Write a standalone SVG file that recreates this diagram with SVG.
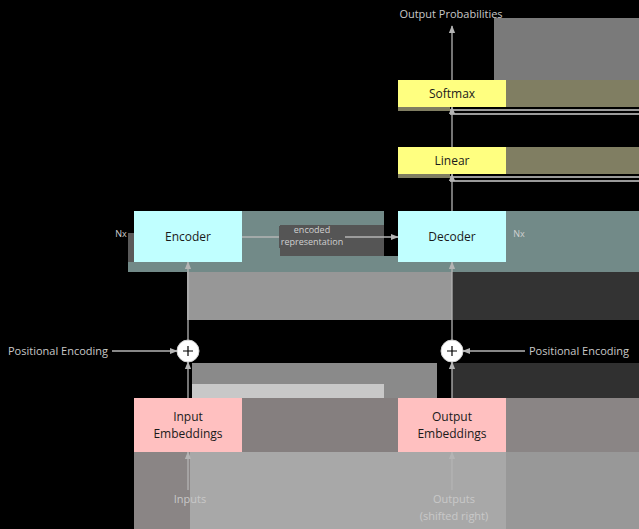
<svg xmlns="http://www.w3.org/2000/svg" width="639" height="529" viewBox="0 0 639 529">
<style>
.box{stroke:none}
.yel{fill:#ffff80}
.cyan{fill:#c0ffff}
.pink{fill:#ffc0c0}
.t{font-family:"Open Sans","Noto Sans",sans-serif;font-size:12px;fill:#1a1a1a;text-anchor:middle}
.lbl{font-family:"Open Sans","Noto Sans",sans-serif;font-size:11px;fill:#c8c8c8;text-anchor:middle}
.sm{font-family:"Open Sans","Noto Sans",sans-serif;font-size:9px;fill:#d0d0d0;text-anchor:middle}
.edge{stroke:#b4b4b4;stroke-width:1.3;fill:none;marker-end:url(#ah)}
.plus{fill:#ffffff;stroke:#d0d0d0;stroke-width:1}
.streak{fill:#9a9a9a}
</style>
<defs>
<marker id="ah" viewBox="0 0 10 10" refX="9" refY="5" markerWidth="6" markerHeight="6" orient="auto-start-reverse">
<path d="M0,1 L10,5 L0,9 z" fill="#b4b4b4"/>
</marker>
</defs>
<g id="background">
<rect x="0" y="0" width="639" height="529" fill="#000"/>
<rect x="494" y="18" width="145" height="62" fill="#7a7a7a"/>
<rect x="506" y="80" width="133" height="27" fill="#807e62"/>
<rect x="398" y="107" width="52" height="4" fill="#807e62"/>
<rect class="streak" x="450" y="109" width="189" height="2"/>
<rect class="streak" x="450" y="113" width="189" height="2"/>
<rect x="506" y="147" width="133" height="27" fill="#807e62"/>
<rect x="398" y="174" width="52" height="4" fill="#807e62"/>
<rect class="streak" x="450" y="176" width="189" height="2"/>
<rect class="streak" x="450" y="180" width="189" height="2"/>
<rect x="242" y="211" width="142" height="61" fill="#728a88"/>
<rect x="384" y="256" width="14" height="16" fill="#728a88"/>
<rect x="128" y="262" width="270" height="10" fill="#728a88"/>
<rect x="128" y="233" width="6" height="29" fill="#5a5a5a"/>
<rect x="398" y="262" width="108" height="10" fill="#728a88"/>
<rect x="506" y="211" width="133" height="61" fill="#728a88"/>
<rect x="280" y="225" width="104" height="31" fill="#555555"/>
<rect x="187" y="272" width="265" height="48" fill="#979797"/>
<rect x="452" y="272" width="187" height="48" fill="#333333"/>
<rect x="192" y="363" width="245" height="35" fill="#8a8a8a"/>
<rect x="192" y="384" width="192" height="14" fill="#c8c8c8"/>
<rect x="452" y="363" width="187" height="35" fill="#303030"/>
<rect x="242" y="398" width="156" height="54" fill="#857f7f"/>
<rect x="506" y="398" width="133" height="54" fill="#8a8585"/>
<rect x="134" y="452" width="505" height="77" fill="#a8a8a8"/>
<rect x="134" y="452" width="56" height="77" fill="#8a8585"/>
<rect x="506" y="452" width="133" height="77" fill="#989898"/>
</g>
<g id="connectors">
<line class="edge" x1="452" y1="80" x2="452" y2="26"/>
<line class="edge" x1="452" y1="147" x2="452" y2="107"/>
<line class="edge" x1="452" y1="211" x2="452" y2="174"/>
<line class="edge" x1="242" y1="237" x2="398" y2="237"/>
<line class="edge" x1="188" y1="340" x2="188" y2="262"/>
<line class="edge" x1="452" y1="340" x2="452" y2="262"/>
<line class="edge" x1="112" y1="351" x2="177" y2="351"/>
<line class="edge" x1="525" y1="351" x2="463" y2="351"/>
<line class="edge" x1="188" y1="398" x2="188" y2="362"/>
<line class="edge" x1="452" y1="398" x2="452" y2="362"/>
<line class="edge" x1="188" y1="490" x2="188" y2="452"/>
<line class="edge" x1="452" y1="490" x2="452" y2="452"/>
<rect x="279" y="226" width="66" height="22" fill="#555555"/>
<text class="sm" x="312" y="233">encoded</text>
<text class="sm" x="312" y="245">representation</text>
</g>
<g id="output-probabilities"><text class="lbl" x="451" y="18">Output Probabilities</text></g>
<g id="softmax"><rect class="box yel" x="398" y="80" width="108" height="27"/><text class="t" x="452" y="98">Softmax</text></g>
<g id="linear"><rect class="box yel" x="398" y="147" width="108" height="27"/><text class="t" x="452" y="165">Linear</text></g>
<g id="encoder"><rect class="box cyan" x="134" y="211" width="108" height="51"/><text class="t" x="188" y="241">Encoder</text></g>
<g id="decoder"><rect class="box cyan" x="398" y="211" width="108" height="51"/><text class="t" x="452" y="241">Decoder</text></g>
<g id="nx-left"><text class="sm" x="121" y="237">Nx</text></g>
<g id="nx-right"><text class="sm" x="519" y="237">Nx</text></g>
<g id="plus-left"><circle class="plus" cx="188" cy="351" r="11"/><path d="M183,351 H193 M188,346 V356" stroke="#000" stroke-width="1.2"/></g>
<g id="plus-right"><circle class="plus" cx="452" cy="351" r="11"/><path d="M447,351 H457 M452,346 V356" stroke="#000" stroke-width="1.2"/></g>
<g id="pe-left"><text class="lbl" x="58" y="355">Positional Encoding</text></g>
<g id="pe-right"><text class="lbl" x="579" y="355">Positional Encoding</text></g>
<g id="input-embeddings"><rect class="box pink" x="134" y="398" width="108" height="54"/><text class="t" x="188" y="421">Input</text><text class="t" x="188" y="438">Embeddings</text></g>
<g id="output-embeddings"><rect class="box pink" x="398" y="398" width="108" height="54"/><text class="t" x="452" y="421">Output</text><text class="t" x="452" y="438">Embeddings</text></g>
<g id="inputs"><text class="lbl" x="190" y="503">Inputs</text></g>
<g id="outputs"><text class="lbl" x="454" y="503">Outputs</text><text class="lbl" x="454" y="520">(shifted right)</text></g>
</svg>
